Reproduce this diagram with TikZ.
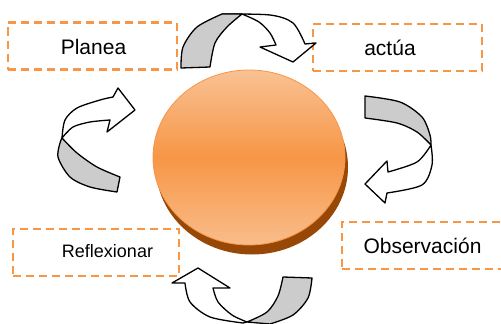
\documentclass[tikz,border=0pt]{standalone}
\usepackage{fontspec}
\setmainfont{Liberation Sans}
\usepackage{tikz}
\usetikzlibrary{shapes.geometric}
\definecolor{dashorange}{HTML}{F79646}
\definecolor{disklight}{HTML}{F9C193}
\definecolor{diskmid}{HTML}{F79646}
\definecolor{diskedge}{HTML}{974806}
\definecolor{bandgrey}{HTML}{CCCCCC}

\begin{document}
\begin{tikzpicture}[x=1pt, y=-1pt,
  stage/.style={draw=dashorange, line width=2.2pt, dash pattern=on 8pt off 5pt,
                minimum width=169pt, minimum height=47pt, inner sep=0pt},
  word/.style={font=\fontsize{21}{24}\selectfont, inner sep=0pt, anchor=base},
  disk/.style={ellipse, minimum width=192pt, minimum height=175pt, inner sep=0pt},
  back/.style={draw=black, line width=1.3pt, fill=bandgrey, line join=round},
  front/.style={draw=black, line width=1.3pt, fill=white, line join=round},
]
\useasboundingbox (0,0) rectangle (501,324);

\node[stage] (planea) at (92.5,46) {};
\node[stage] (actua) at (397.5,47.5) {};
\node[stage, minimum width=166pt] (reflex) at (96,252.5) {};
\node[stage, minimum width=166pt] (observ) at (425,245.5) {};

\node[word] (planea-t) at (93.5,54) {Planea};
\node[word] (actua-t) at (390,55) {actúa};
\node[word, font=\fontsize{18}{22}\selectfont] (reflex-t) at (107.5,257.7) {Reflexionar};
\node[word] (observ-t) at (422.5,253.3) {Observación};

\node[disk, fill=diskedge] (disk-edge) at (252,167) {};
\node[disk, draw=diskmid, line width=0.8pt, top color=disklight,
      bottom color=disklight!90!diskmid, middle color=diskmid] (disk) at (249,157.5) {};

% top
\filldraw[front] plot[smooth] coordinates {(222,14) (270,15) (293,23) (305,44)}
  -- (316,43) -- (293,62) -- (260,47)
  -- plot[smooth] coordinates {(276,45) (270,33) (259,22) (242,14)} -- cycle;
\filldraw[back] plot[smooth] coordinates {(181,68) (183,47) (197,27) (222,14)}
  -- plot[smooth] coordinates {(242,14) (227,27) (215,43) (210,67)} -- cycle;

% right
\filldraw[front] plot[smooth] coordinates {(431,145) (432,165) (422,185) (387,193)}
  -- (385,203) -- (365,184) -- (387,161)
  -- plot[smooth] coordinates {(388,172) (417,162) (431,145)} -- cycle;
\filldraw[back] plot[smooth] coordinates {(365,96) (400,102) (422,117) (430,135) (431,145)}
  -- plot[smooth] coordinates {(431,145) (417,132) (397,123) (365,118)} -- cycle;

% bottom
\filldraw[front] plot[smooth] coordinates {(243,323) (210,317) (190,302) (185,283)}
  -- (172,283) -- (198,268) -- (230,288)
  -- plot[smooth] coordinates {(213,288) (218,302) (232,315) (247,322)} -- cycle;
\filldraw[back] plot[smooth] coordinates {(283,277) (278,296) (267,312) (247,322)}
  -- plot[smooth] coordinates {(270,324) (293,315) (308,298) (312,278)} -- cycle;

% left
\filldraw[front] plot[smooth] coordinates {(62,138) (65,120) (77,108) (100,100) (113,97)}
  -- (118,88) -- (135,110) -- (107,132)
  -- plot[smooth] coordinates {(110,120) (90,122) (73,127) (62,138)} -- cycle;
\filldraw[back] plot[smooth] coordinates {(62,138) (77,153) (97,167) (120,177)}
  -- plot[smooth] coordinates {(117,192) (90,187) (70,177) (58,157) (61,140)} -- cycle;
\end{tikzpicture}
\end{document}
